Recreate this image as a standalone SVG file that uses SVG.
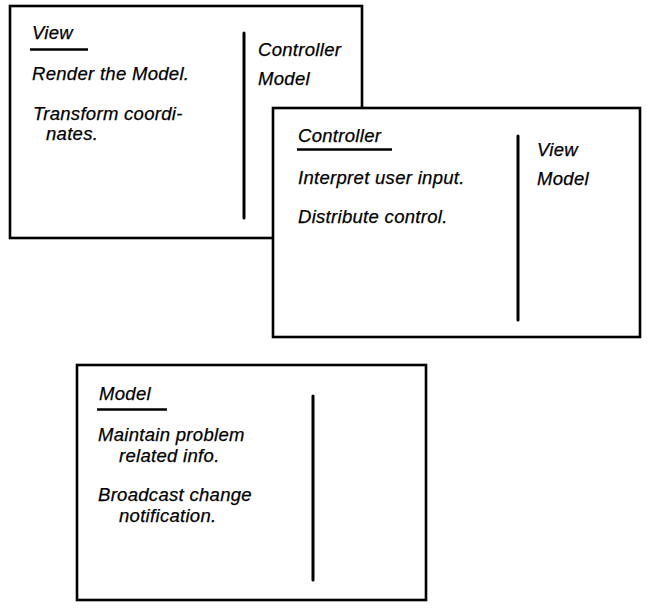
<svg xmlns="http://www.w3.org/2000/svg" width="653" height="614" viewBox="0 0 653 614">
<style>
.card{fill:#fff;stroke:#000;stroke-width:2.6}
.div{stroke:#000;stroke-width:3;stroke-linecap:round}
.ul{stroke:#000;stroke-width:2.5}
text{font-family:"Liberation Sans",Arial,sans-serif;font-style:italic;font-size:18.5px;letter-spacing:0.3px;fill:#000;stroke:#000;stroke-width:0.25}
</style>
<rect width="653" height="614" fill="#fff"/>
<g id="view-card">
<rect class="card" x="10" y="6" width="352" height="232"/>
<line class="div" x1="244" y1="33" x2="244" y2="218"/>
<text x="32" y="39">View</text>
<line class="ul" x1="30" y1="49.5" x2="88" y2="49.5"/>
<text x="32" y="80">Render the Model.</text>
<text x="33" y="120">Transform coordi-</text>
<text x="46" y="140">nates.</text>
<text x="258" y="56">Controller</text>
<text x="258" y="85">Model</text>
</g>
<g id="controller-card">
<rect class="card" x="273" y="108" width="367" height="229"/>
<line class="div" x1="518" y1="136" x2="518" y2="320"/>
<text x="298" y="142">Controller</text>
<line class="ul" x1="297" y1="149.5" x2="392" y2="149.5"/>
<text x="298" y="184">Interpret user input.</text>
<text x="298" y="223">Distribute control.</text>
<text x="537" y="156">View</text>
<text x="537" y="185">Model</text>
</g>
<g id="model-card">
<rect class="card" x="77" y="365" width="349" height="235"/>
<line class="div" x1="313" y1="396" x2="313" y2="580"/>
<text x="99" y="400">Model</text>
<line class="ul" x1="97" y1="409.5" x2="167" y2="409.5"/>
<text x="98" y="441">Maintain problem</text>
<text x="119" y="462">related info.</text>
<text x="98" y="501">Broadcast change</text>
<text x="119" y="522">notification.</text>
</g>
<g id="connectors"/>
</svg>
